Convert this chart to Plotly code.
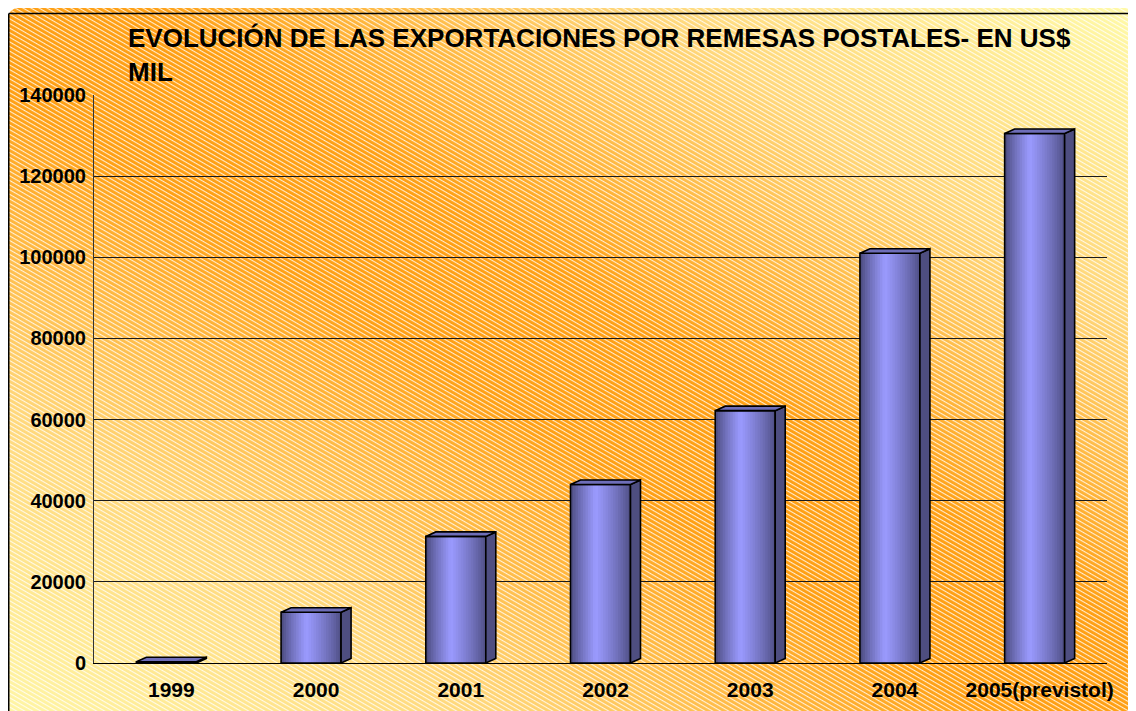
import base64
import plotly.graph_objects as go

# ---------------- data ----------------
categories = ["1999", "2000", "2001", "2002", "2003", "2004", "2005(previstol)"]
values = [300, 12500, 31200, 44000, 62200, 101000, 130500]
y_ticks = [0, 20000, 40000, 60000, 80000, 100000, 120000, 140000]
title_text = "EVOLUCIÓN DE LAS EXPORTACIONES POR REMESAS POSTALES- EN US$<br>MIL"

# ---------------- geometry / style ----------------
# the page body has an 8px margin, so figure coords = page coords - 8
W = 1136
H = 711
ML = 86
PLOT_RIGHT = 1099
PLOT_TOP = 87
PLOT_BOTTOM = 655
MR = W - PLOT_RIGHT
MT = PLOT_TOP
MB = H - PLOT_BOTTOM
plot_w = W - ML - MR
plot_h = H - MT - MB
YMAX = 140000
XMIN, XMAX = -0.5, len(categories) - 0.5
x_per_px = (XMAX - XMIN) / plot_w
y_per_px = YMAX / plot_h

BAR_W = 60 * x_per_px          # front face width in x units
DX = 10 * x_per_px             # 3D depth (x)
DY = 4.5 * y_per_px            # 3D depth (y)
N_STRIPS = 24
DARK_L = (70, 70, 118)
DARK_R = (76, 76, 128)
LIGHT = (155, 155, 255)
FONT = "Liberation Sans, Arial, sans-serif"

xs = list(range(len(categories)))

fig = go.Figure()

# front faces with a horizontal cylinder-like gradient (strips)
strip_w = BAR_W / N_STRIPS
for i in range(N_STRIPS):
    t = (i + 0.5) / N_STRIPS
    peak = 0.42
    if t < peak:
        f = t / peak
        base = DARK_L
    else:
        f = 1 - (t - peak) / (1 - peak)
        base = DARK_R
    f = f ** 0.8
    col = tuple(int(round(base[k] + (LIGHT[k] - base[k]) * f)) for k in range(3))
    w_i = strip_w * (1.4 if i < N_STRIPS - 1 else 1.0)
    fig.add_trace(go.Bar(
        x=xs, y=values,
        width=w_i,
        offset=-BAR_W / 2 + i * strip_w,
        marker=dict(color="rgb(%d,%d,%d)" % col, line=dict(width=0)),
        hoverinfo="skip", showlegend=False,
    ))

# front outlines
fx, fy = [], []
for x, v in zip(xs, values):
    fx += [x - BAR_W / 2, x - BAR_W / 2, x + BAR_W / 2, x + BAR_W / 2, x - BAR_W / 2, None]
    fy += [0, v, v, 0, 0, None]
fig.add_trace(go.Scatter(x=fx, y=fy, mode="lines", line=dict(color="black", width=1.6),
                         hoverinfo="skip", showlegend=False))

# side faces
sx, sy = [], []
for x, v in zip(xs, values):
    r = x + BAR_W / 2
    sx += [r, r + DX, r + DX, r, r, None]
    sy += [0, DY, v + DY, v, 0, None]
fig.add_trace(go.Scatter(x=sx, y=sy, mode="lines", fill="toself",
                         fillcolor="rgb(78,78,128)", line=dict(color="black", width=1.6),
                         hoverinfo="skip", showlegend=False))

# top faces
tx, ty = [], []
for x, v in zip(xs, values):
    l, r = x - BAR_W / 2, x + BAR_W / 2
    tx += [l, l + DX, r + DX, r, l, None]
    ty += [v, v + DY, v + DY, v, v, None]
fig.add_trace(go.Scatter(x=tx, y=ty, mode="lines", fill="toself",
                         fillcolor="rgb(110,110,185)", line=dict(color="black", width=1.6),
                         hoverinfo="skip", showlegend=False))

# ---------------- background (gradient + hatching) ----------------
BG_X0, BG_Y0 = 0, 0
bg_w, bg_h = W - 8, H
svg = f'''<svg xmlns="http://www.w3.org/2000/svg" width="{bg_w}" height="{bg_h}" viewBox="0 0 {bg_w} {bg_h}">
<defs>
<linearGradient id="g" x1="0" y1="1" x2="1" y2="0">
<stop offset="0" stop-color="#fff6a6"/>
<stop offset="0.22" stop-color="#ffd77a"/>
<stop offset="0.44" stop-color="#ff9f12"/>
<stop offset="0.56" stop-color="#ff9f12"/>
<stop offset="0.78" stop-color="#ffd77a"/>
<stop offset="1" stop-color="#fffaa8"/>
</linearGradient>
<pattern id="p" width="4" height="4" patternUnits="userSpaceOnUse" patternTransform="rotate(30)">
<rect x="0" y="0" width="4" height="1.1" fill="#ffffff" fill-opacity="0.8"/>
</pattern>
</defs>
<rect x="0" y="0" width="{bg_w}" height="{bg_h}" rx="10" fill="url(#g)"/>
<rect x="0" y="0" width="{bg_w}" height="{bg_h}" rx="10" fill="url(#p)"/>
</svg>'''
src = "data:image/svg+xml;base64," + base64.b64encode(svg.encode("utf-8")).decode("ascii")


def px2paper_x(px):
    return (px - ML) / plot_w


def px2paper_y(py):
    return (H - MB - py) / plot_h


fig.add_layout_image(dict(
    source=src, xref="paper", yref="paper",
    x=px2paper_x(BG_X0), y=px2paper_y(BG_Y0),
    sizex=bg_w / plot_w, sizey=bg_h / plot_h,
    xanchor="left", yanchor="top", sizing="stretch", layer="below",
))

# outer frame lines (top and left)
fig.add_shape(type="line", xref="paper", yref="paper",
              x0=px2paper_x(0.75), x1=px2paper_x(W), y0=px2paper_y(5.5), y1=px2paper_y(5.5),
              line=dict(color="black", width=1.5))
fig.add_shape(type="line", xref="paper", yref="paper",
              x0=px2paper_x(0.75), x1=px2paper_x(0.75), y0=px2paper_y(5.5), y1=px2paper_y(H),
              line=dict(color="black", width=1.5))

fig.update_layout(
    width=W, height=H,
    margin=dict(l=ML, r=MR, t=MT, b=MB, autoexpand=False),
    paper_bgcolor="white",
    plot_bgcolor="rgba(0,0,0,0)",
    barmode="overlay",
    showlegend=False,
    font=dict(family=FONT, color="black"),
    title=dict(
        text=title_text,
        font=dict(family=FONT, size=26, color="black", weight="bold"),
        xref="container", yref="container",
        x=120 / W, xanchor="left",
        y=1 - 39 / H, yanchor="top",
    ),
    xaxis=dict(
        range=[XMIN, XMAX],
        tickmode="array", tickvals=xs, ticktext=categories,
        showgrid=False, zeroline=False,
        showline=True, linecolor="black", linewidth=1.2,
        ticks="", ticklabelstandoff=8, ticklabelshift=5,
        tickfont=dict(family=FONT, size=21, color="black", weight="bold"),
    ),
    yaxis=dict(
        range=[0, YMAX],
        tickmode="array", tickvals=y_ticks, tickformat="d",
        showgrid=True, gridcolor="#1a1a1a", gridwidth=1,
        zeroline=False,
        showline=True, linecolor="#333333", linewidth=1,
        ticks="", ticklabelstandoff=3,
        tickfont=dict(family=FONT, size=20, color="black", weight="bold"),
    ),
)

fig.write_html("out.html")
